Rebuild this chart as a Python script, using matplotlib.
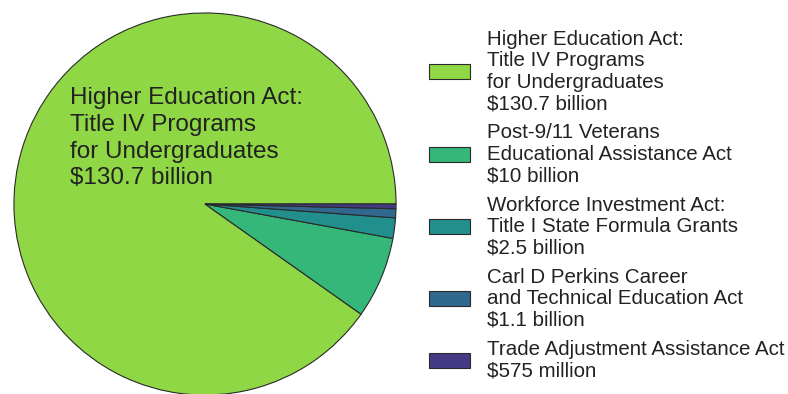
import matplotlib
matplotlib.use("Agg")
import matplotlib.pyplot as plt

plt.rcParams["font.family"] = ["Liberation Sans", "DejaVu Sans"]

# ---------- program funding ----------
programs = [
    "Higher Education Act:\nTitle IV Programs\nfor Undergraduates",
    "Post-9/11 Veterans\nEducational Assistance Act",
    "Workforce Investment Act:\nTitle I State Formula Grants",
    "Carl D Perkins Career\nand Technical Education Act",
    "Trade Adjustment Assistance Act",
]
amounts = [130.7, 10, 2.5, 1.1, 0.575]          # billions of dollars
amount_labels = ["$130.7 billion", "$10 billion", "$2.5 billion",
                 "$1.1 billion", "$575 million"]
colors = ["#8fd744", "#35b779", "#21908d", "#31688e", "#443983"]

fig = plt.figure(figsize=(7.88, 3.94), dpi=100)
ax = fig.add_axes([13 / 788, -2 / 394, 384 / 788, 384 / 394])

wedges, _ = ax.pie(amounts, colors=colors, startangle=0, counterclock=True,
                   radius=1.0,
                   wedgeprops=dict(edgecolor="#2a2a2a", linewidth=0.8))
ax.set_xlim(-1.005, 1.005)
ax.set_ylim(-1.005, 1.005)
ax.set_aspect("equal")
ax.axis("off")

# label for the dominant slice, sitting inside it
ax.text(-0.705, 0.61, programs[0] + "\n" + amount_labels[0],
        ha="left", va="top", fontsize=17.5, color="#222222", linespacing=1.275)

legend_labels = [p + "\n" + a for p, a in zip(programs, amount_labels)]
leg = fig.legend(wedges, legend_labels, loc="upper left",
                 bbox_to_anchor=(429 / 788, 1 - 30 / 394),
                 frameon=False, fontsize=14.8, labelcolor="#222222",
                 handlelength=2.0, handleheight=0.74, handletextpad=0.8,
                 labelspacing=0.5, borderaxespad=0, borderpad=0)
for t in leg.get_texts():
    t.set_linespacing(1.16)

fig.savefig("out.png", dpi=100)
